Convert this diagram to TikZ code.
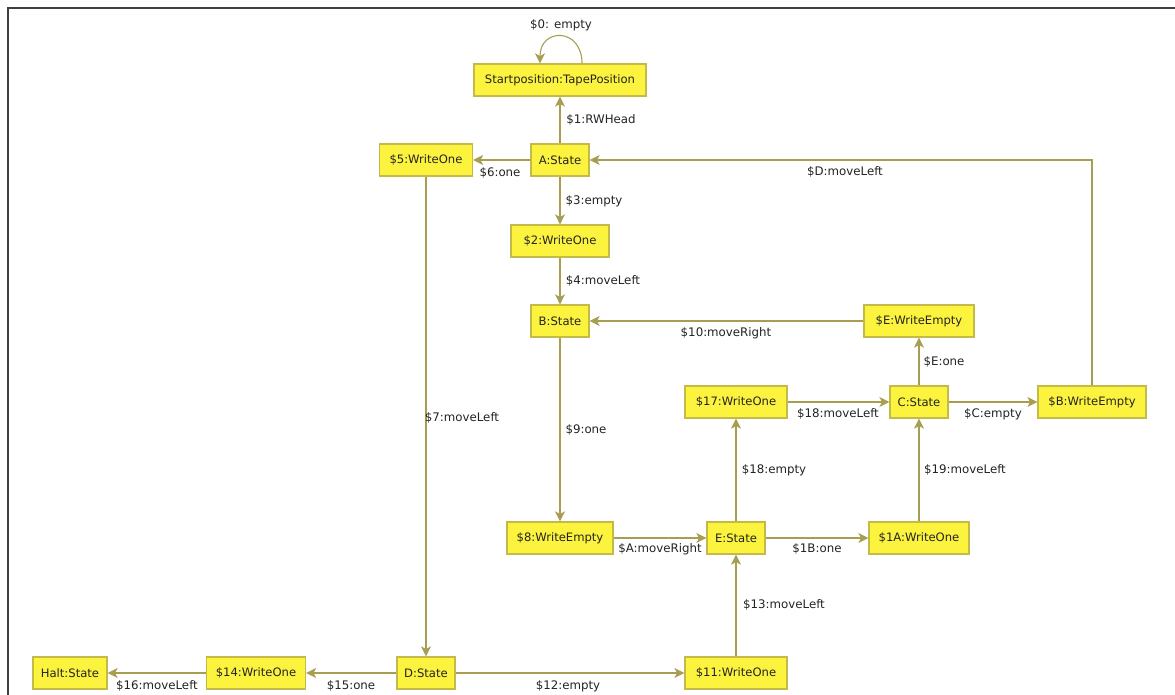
\documentclass[tikz,border=0pt]{standalone}
\usepackage{fontspec}
\setmainfont{DejaVu Sans}
\usetikzlibrary{arrows.meta}
\definecolor{boxfill}{RGB}{252,243,62}
\definecolor{boxline}{RGB}{196,186,72}
\definecolor{edgecol}{RGB}{168,158,82}
\definecolor{txtcol}{RGB}{35,35,35}
\tikzset{
  objbox/.style={draw=boxline, fill=boxfill, line width=1.2pt, minimum height=32pt,
    inner xsep=0pt, text=txtcol, font=\fontsize{11.6}{13}\selectfont},
  conn/.style={draw=edgecol, line width=1.1pt,
    -{Stealth[length=10pt,width=10pt,inset=2.5pt]}},
  lbl/.style={text=txtcol, font=\fontsize{11.8}{13}\selectfont, inner sep=1pt}
}
\begin{document}
\begin{tikzpicture}[x=1pt, y=-1pt]
        \useasboundingbox (0,0) rectangle (1175,695);
        % frame
        \draw[line width=1.4pt, gray!50!black] (8,695) -- (8,8) -- (1175,8);
        % top column
        \node[objbox, minimum width=172pt] (start) at (560,80) {Startposition:TapePosition};
        \node[objbox, minimum width=58pt] (A) at (560,160) {A:State};
        \node[objbox, minimum width=93pt] (w5) at (426,160) {\$5:WriteOne};
        \node[objbox, minimum width=98pt] (w2) at (560,241) {\$2:WriteOne};
        \node[objbox, minimum width=58pt] (B) at (560,321) {B:State};
        \node[objbox, minimum width=110pt] (eE) at (919,321) {\$E:WriteEmpty};
        % middle row
        \node[objbox, minimum width=102pt] (w17) at (736,402) {\$17:WriteOne};
        \node[objbox, minimum width=58pt] (C) at (919,402) {C:State};
        \node[objbox, minimum width=108pt] (bB) at (1092,402) {\$B:WriteEmpty};
        \node[objbox, minimum width=106pt] (w8) at (560,538) {\$8:WriteEmpty};
        \node[objbox, minimum width=58pt] (E) at (736,538) {E:State};
        \node[objbox, minimum width=100pt] (w1A) at (919,538) {\$1A:WriteOne};
        % bottom row
        \node[objbox, minimum width=74pt] (halt) at (70,673) {Halt:State};
        \node[objbox, minimum width=99pt] (w14) at (256,673) {\$14:WriteOne};
        \node[objbox, minimum width=58pt] (D) at (426,673) {D:State};
        \node[objbox, minimum width=102pt] (w11) at (736,673) {\$11:WriteOne};
        % links
        \coordinate (loopa) at ([xshift=22pt]start.north);
        \coordinate (loopb) at ([xshift=-20pt]start.north);
        \draw[conn] (loopa) .. controls +(0,-36) and +(0,-36) .. (loopb);
        \draw[conn] (A) -- (start);
        \draw[conn] (A) -- (w5);
        \draw[conn] (A) -- (w2);
        \draw[conn] (w2) -- (B);
        \draw[conn] (eE) -- (B);
        \draw[conn] (C) -- (eE);
        \draw[conn] (bB) |- (A);
        \draw[conn] (C) -- (bB);
        \draw[conn] (w17) -- (C);
        \draw[conn] (E) -- (w17);
        \draw[conn] (w1A) -- (C);
        \draw[conn] (B) -- (w8);
        \draw[conn] (w8) -- (E);
        \draw[conn] (E) -- (w1A);
        \draw[conn] (w11) -- (E);
        \draw[conn] (w5) -- (D);
        \draw[conn] (D) -- (w14);
        \draw[conn] (D) -- (w11);
        \draw[conn] (w14) -- (halt);
        % labels
        \node[lbl] (l0) at (561,25) {\$0: empty};
        \node[lbl] (l1) at (601,120) {\$1:RWHead};
        \node[lbl] (l6) at (500,173) {\$6:one};
        \node[lbl] (l3) at (594,201) {\$3:empty};
        \node[lbl] (l4) at (603,281) {\$4:moveLeft};
        \node[lbl] (l10) at (726,333) {\$10:moveRight};
        \node[lbl] (lE) at (944,362) {\$E:one};
        \node[lbl] (lD) at (845,172) {\$D:moveLeft};
        \node[lbl] (lC) at (993,414) {\$C:empty};
        \node[lbl] (l18a) at (838,414) {\$18:moveLeft};
        \node[lbl] (l18b) at (774,470) {\$18:empty};
        \node[lbl] (l19) at (965,470) {\$19:moveLeft};
        \node[lbl] (l9) at (586,430) {\$9:one};
        \node[lbl] (l7) at (462,418) {\$7:moveLeft};
        \node[lbl] (lA) at (660,549) {\$A:moveRight};
        \node[lbl] (l1B) at (817,549) {\$1B:one};
        \node[lbl] (l13) at (784,605) {\$13:moveLeft};
        \node[lbl] (l15) at (351,686) {\$15:one};
        \node[lbl] (l12) at (568,686) {\$12:empty};
        \node[lbl] (l16) at (157,686) {\$16:moveLeft};
\end{tikzpicture}
\end{document}
